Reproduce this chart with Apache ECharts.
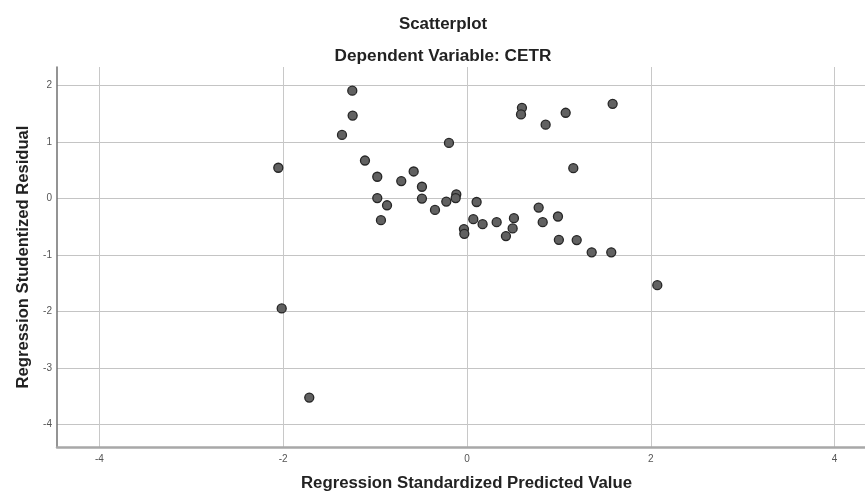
<!DOCTYPE html>
<html>
<head>
<meta charset="utf-8">
<script src="https://cdn.jsdelivr.net/npm/echarts@6/dist/echarts.min.js"></script>
<style>
html,body{margin:0;padding:0;background:#fff;}
#chart{width:865px;height:498px;}
</style>
</head>
<body>
<div id="chart"></div>
<script>
// Regression Standardized Predicted Value (x) and Studentized Residual (y)
var predicted = [
  -1.248, -1.244, -1.36, -0.196, -2.053, -1.11, -0.976, -0.715, -0.58, -0.49,
  -0.976, -0.49, -0.87, -0.936, -0.348, -0.225, -0.116, -0.123, 0.105, 0.069,
  0.17, 0.323, 0.511, 0.497, 0.424, -0.033, -0.029, 0.78, 0.824, 0.99,
  1.0, 1.194, 1.357, 1.57, 0.598, 0.588, 0.856, 1.074, 1.585, 1.157,
  2.071, -2.016, -1.716
];
var residual = [
  1.91, 1.47, 1.127, 0.986, 0.546, 0.674, 0.387, 0.31, 0.48, 0.21,
  0.01, 0.0, -0.118, -0.382, -0.2, -0.053, 0.076, 0.01, -0.06, -0.364,
  -0.452, -0.417, -0.347, -0.528, -0.664, -0.54, -0.623, -0.159, -0.417, -0.317,
  -0.73, -0.734, -0.951, -0.951, 1.607, 1.49, 1.308, 1.519, 1.678, 0.539,
  -1.532, -1.943, -3.521
];
var xTicks = [-4, -2, 0, 2, 4];
var yTicks = [-4, -3, -2, -1, 0, 1, 2];
var titleText = 'Scatterplot';
var subtitleText = 'Dependent Variable: CETR';
var xName = 'Regression Standardized Predicted Value';
var yName = 'Regression Studentized Residual';

var points = predicted.map(function (x, i) { return [x, residual[i]]; });

var chart = echarts.init(document.getElementById('chart'), null, {renderer: 'canvas'});
var font = 'Liberation Sans, Arial, sans-serif';
chart.setOption({
  animation: false,
  backgroundColor: '#ffffff',
  title: [
    {text: titleText, left: 438, top: 11, textAlign: 'center',
     textStyle: {fontFamily: font, fontSize: 16.9, fontWeight: 'bold', color: '#222'}},
    {text: subtitleText, left: 438, top: 43, textAlign: 'center',
     textStyle: {fontFamily: font, fontSize: 17.2, fontWeight: 'bold', color: '#222'}}
  ],
  grid: {left: 57, top: 67, right: 0, height: 380, containLabel: false},
  xAxis: {
    type: 'value', min: -4.461, max: 4.331,
    name: xName, nameLocation: 'middle', nameGap: 27.5,
    nameTextStyle: {fontFamily: font, fontSize: 16.8, fontWeight: 'bold', color: '#222', padding: [0, 0, 0, 11]},
    axisLine: {show: true, onZero: false, lineStyle: {color: '#a8a8a8', width: 2.5}},
    axisTick: {show: false, customValues: xTicks},
    axisLabel: {customValues: xTicks, margin: 7, fontFamily: font, fontSize: 10, color: '#555'},
    splitLine: {show: true, lineStyle: {color: '#c8c8c8', width: 1}}
  },
  yAxis: {
    type: 'value', min: -4.396, max: 2.329,
    name: yName, nameLocation: 'middle', nameGap: 21, nameRotate: 90,
    nameTextStyle: {fontFamily: font, fontSize: 16.6, fontWeight: 'bold', color: '#222'},
    axisLine: {show: true, onZero: false, lineStyle: {color: '#707070', width: 1.5}},
    axisTick: {show: false, customValues: yTicks},
    axisLabel: {customValues: yTicks, margin: 5, fontFamily: font, fontSize: 10, color: '#555'},
    splitLine: {show: true, lineStyle: {color: '#c4c4c4', width: 1}}
  },
  series: [{
    type: 'scatter',
    data: points,
    symbol: 'circle',
    symbolSize: 9,
    itemStyle: {color: '#616161', borderColor: '#262626', borderWidth: 1.3, opacity: 1}
  }]
});
</script>
</body>
</html>
